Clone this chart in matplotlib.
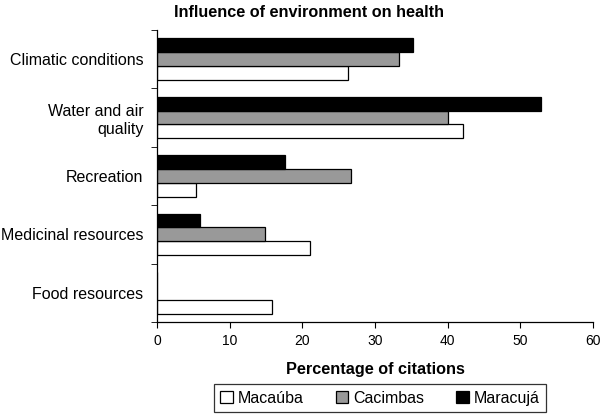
import numpy as np
import matplotlib
matplotlib.use("Agg")
import matplotlib.pyplot as plt
from matplotlib.patches import Patch

plt.rcParams["font.family"] = ["Liberation Sans", "DejaVu Sans"]

# categories, top to bottom
categories = ["Climatic conditions", "Water and air\nquality", "Recreation",
              "Medicinal resources", "Food resources"]
macauba = [26.3, 42.1, 5.3, 21.1, 15.8]
cacimbas = [33.3, 40.0, 26.7, 14.8, 0.0]
maracuja = [35.3, 52.9, 17.6, 5.9, 0.0]

series_names = ["Macaúba", "Cacimbas", "Maracujá"]
series_colors = ["white", "#999999", "black"]

fig = plt.figure(figsize=(6.0, 4.16), dpi=100)
ax = fig.add_axes([0.262, 0.226, 0.726, 0.702])

n = len(categories)
y = np.arange(n)[::-1]  # top category at highest y
h = 0.237

for i, (vals, col) in enumerate(zip([macauba, cacimbas, maracuja], series_colors)):
    ax.barh(y + (i - 1) * h, vals, height=h, color=col, edgecolor="black", linewidth=0.9)

ax.set_xlim(0, 60)
ax.set_ylim(-0.5, n - 0.5)
ax.set_xticks(np.arange(0, 61, 10))
ax.tick_params(axis="x", labelsize=10, length=4, direction="out", pad=5)

ax.set_yticks(y)
ax.set_yticklabels(categories, fontsize=11.5, ha="right", linespacing=1.25)
ax.tick_params(axis="y", which="major", length=0, pad=10)
ax.set_yticks(np.arange(n + 1) - 0.5, minor=True)
ax.tick_params(axis="y", which="minor", length=4, direction="out")

for s in ["top", "right"]:
    ax.spines[s].set_visible(False)
for s in ["left", "bottom"]:
    ax.spines[s].set_linewidth(0.9)

ax.set_xlabel("Percentage of citations", fontsize=11.7, fontweight="bold", labelpad=10)
fig.text(0.515, 0.971, "Influence of environment on health", fontsize=11.7,
         fontweight="bold", ha="center", va="center")

handles = [Patch(facecolor=c, edgecolor="black", linewidth=0.9) for c in series_colors]
leg = fig.legend(handles, series_names, loc="center", bbox_to_anchor=(0.633, 0.043),
                 ncol=3, fontsize=11.5, frameon=True, fancybox=False,
                 edgecolor="black", handlelength=0.8, handleheight=0.8,
                 handletextpad=0.3, columnspacing=2.0, borderpad=0.4,
                 borderaxespad=0)
leg.get_frame().set_linewidth(0.9)

fig.savefig("out.png", dpi=100)
